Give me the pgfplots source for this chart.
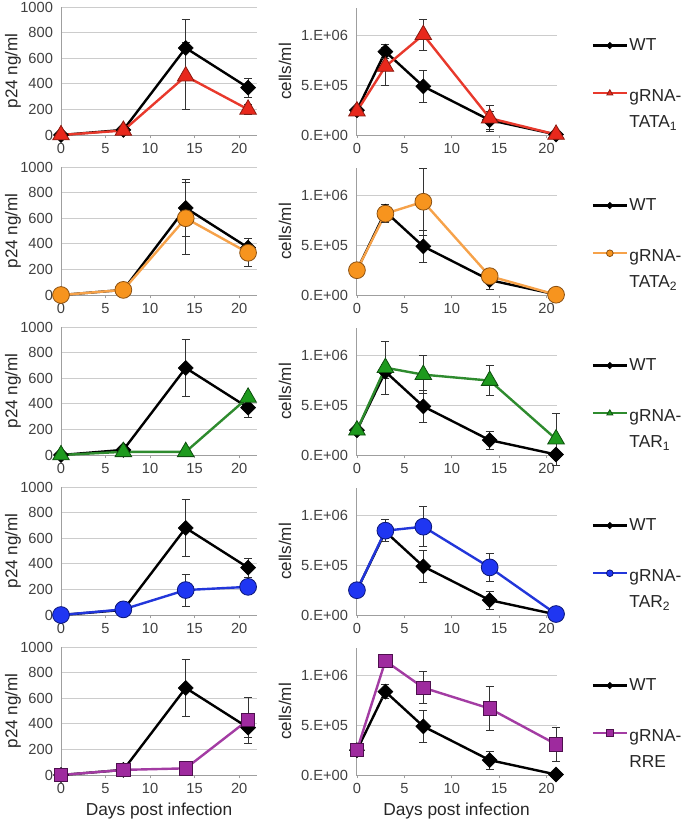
\documentclass[border=0pt]{standalone}
\usepackage{pgfplots}
\pgfplotsset{compat=1.18}
\usepackage{pgfplotstable}
\usepackage{fontspec}
\setmainfont{Liberation Sans}

\definecolor{cRed}{HTML}{E8281C}
\definecolor{cRedL}{HTML}{E8392C}
\definecolor{cRedD}{HTML}{8A1A10}
\definecolor{cOr}{HTML}{F7941E}
\definecolor{cOrL}{HTML}{F6A24A}
\definecolor{cOrD}{HTML}{8A5012}
\definecolor{cGr}{HTML}{1E9A1E}
\definecolor{cGrL}{HTML}{2E8B2E}
\definecolor{cGrD}{HTML}{0E4E0E}
\definecolor{cBl}{HTML}{1F36F2}
\definecolor{cBlL}{HTML}{2236DA}
\definecolor{cBlD}{HTML}{0B1677}
\definecolor{cPu}{HTML}{9E2A9E}
\definecolor{cPuL}{HTML}{A33CA3}
\definecolor{cPuD}{HTML}{4E104E}

% ---------------- data ----------------
\pgfplotstableread{
x y e
0 0 0
7 40 30
14 680 220
21 370 75
}\wtp
\pgfplotstableread{
x y e
0 2.5e5 2e4
3 8.4e5 7e4
7 4.9e5 1.6e5
14 1.5e5 9e4
21 5e3 0
}\wtc
\pgfplotstableread{
x y e
0 0 0
7 35 20
14 460 260
21 200 40
}\tataap
\pgfplotstableread{
x y e
0 2.4e5 2e4
3 6.9e5 1.9e5
7 1.01e6 1.6e5
14 1.7e5 1.3e5
21 5e3 0
}\tataac
\pgfplotstableread{
x y e
0 0 0
7 40 10
14 600 280
21 330 110
}\tatabp
\pgfplotstableread{
x y e
0 2.5e5 0
3 8.2e5 9e4
7 9.4e5 3.4e5
14 1.9e5 5e4
21 3e3 0
}\tatabc
\pgfplotstableread{
x y e
0 0 0
7 25 10
14 25 10
21 450 30
}\taraap
\pgfplotstableread{
x y e
0 2.5e5 0
3 8.8e5 2.7e5
7 8.1e5 1.9e5
14 7.5e5 1.5e5
21 1.6e5 2.6e5
}\taraac
\pgfplotstableread{
x y e
0 0 0
7 44 10
14 195 125
21 220 20
}\tarbp
\pgfplotstableread{
x y e
0 2.5e5 0
3 8.5e5 1.1e5
7 8.9e5 2e5
14 4.8e5 1.45e5
21 1e4 0
}\tarbc
\pgfplotstableread{
x y e
0 0 0
7 40 10
14 52 10
21 430 180
}\rrep
\pgfplotstableread{
x y e
0 2.5e5 0
3 1.15e6 0
7 8.8e5 1.6e5
14 6.7e5 2.2e5
21 3.1e5 1.7e5
}\rrec

\pgfplotsset{
  common/.style={
    scale only axis, axis lines=left,
    axis line style={-, gray!75, line width=0.6pt},
    ymajorgrids, grid style={gray!40, line width=0.6pt},
    tick align=outside, major tick length=2.5pt,
    ytick style={draw=none}, xtick style={gray!75, line width=0.6pt},
    xtick={0,5,10,15,20},
    ticklabel style={font=\fontsize{11}{13}\selectfont, text=black!75},
    label style={font=\fontsize{12.8}{15}\selectfont, text=black!85},
    xlabel style={font=\fontsize{13}{15}\selectfont},
    /pgf/number format/assume math mode=true,
    /pgf/number format/1000 sep={},
    clip=false,
  },
  leftax/.style={common, width=147pt, height=96pt,
    xmin=0, xmax=22, ymin=0, ymax=1000,
    ytick={0,200,...,1000}, ylabel={p24 ng/ml},
    ylabel style={at={(axis description cs:-0.245,0.5)}, anchor=center}},
  rightax/.style={common, width=150.75pt, height=95.25pt,
    xmin=-0.1, xmax=21.1, ymin=0, ymax=1.28e6,
    ytick={0,500000,1000000}, yticklabels={0.E+00,5.E+05,1.E+06},
    scaled y ticks=false, ylabel={cells/ml},
    ylabel style={at={(axis description cs:-0.353,0.5)}, anchor=center},
    legend style={at={(1.172,0.77)}, anchor=north west, draw=none, fill=none,
      font=\fontsize{13}{19.5}\selectfont, row sep=21pt,
      inner sep=0pt, outer sep=0pt, nodes={inner sep=1pt, text=black!85}},
    legend cell align=left,
    legend image code/.code={\draw[mark repeat=2, mark phase=2] plot coordinates {(0cm,0cm)(0.45cm,0cm)(0.9cm,0cm)};},
  },
  errb/.style={error bars/y dir=both, error bars/y explicit,
    error bars/error bar style={line width=0.6pt, black!80, solid},
    error bars/error mark options={line width=0.6pt, black!80, mark size=3pt, rotate=90}},
  wt/.style={black, line width=1.8pt, mark=square*, mark size=4pt,
    mark options={rotate=45, fill=black, draw=black, line width=0.4pt},
    legend image post style={mark size=1.7pt}, errb},
  tataa/.style={cRedL, line width=1.8pt, mark=triangle*, mark size=7.2pt,
    mark options={fill=cRed, draw=cRedD, line width=0.6pt},
    legend image post style={mark size=2.6pt}, errb},
  tatab/.style={cOrL, line width=1.8pt, mark=*, mark size=6.3pt,
    mark options={fill=cOr, draw=cOrD, line width=0.6pt},
    legend image post style={mark size=2.5pt}, errb},
  taraa/.style={cGrL, line width=1.8pt, mark=triangle*, mark size=7.2pt,
    mark options={fill=cGr, draw=cGrD, line width=0.6pt},
    legend image post style={mark size=2.6pt}, errb},
  tarb/.style={cBlL, line width=1.8pt, mark=*, mark size=6.3pt,
    mark options={fill=cBl, draw=cBlD, line width=0.6pt},
    legend image post style={mark size=2.5pt}, errb},
  rre/.style={cPuL, line width=1.8pt, mark=square*, mark size=5pt,
    mark options={fill=cPu, draw=cPuD, line width=0.6pt},
    legend image post style={mark size=2.7pt}, errb},
}

\newcommand{\panelrow}[6]{%
  \begin{axis}[leftax, at={(45.75pt,#1)}, anchor=south west, #6]
    \addplot[wt] table[x=x, y=y, y error=e]{\wtp};
    \addplot[#2] table[x=x, y=y, y error=e]{#3};
  \end{axis}
  \begin{axis}[rightax, at={(267pt,#1)}, anchor=south west, #6]
    \addplot[wt] table[x=x, y=y, y error=e]{\wtc};
    \addlegendentry{WT}
    \addplot[#2] table[x=x, y=y, y error=e]{#4};
    \addlegendentry{#5}
  \end{axis}%
}

\begin{document}
\begin{tikzpicture}
\useasboundingbox (0,0) rectangle (513.75pt,-616.5pt);
\panelrow{-101.25pt}{tataa}{\tataap}{\tataac}{\begin{tabular}[t]{@{}l@{}}gRNA-\\TATA\textsubscript{1}\end{tabular}}{}
\panelrow{-221.25pt}{tatab}{\tatabp}{\tatabc}{\begin{tabular}[t]{@{}l@{}}gRNA-\\TATA\textsubscript{2}\end{tabular}}{}
\panelrow{-341.25pt}{taraa}{\taraap}{\taraac}{\begin{tabular}[t]{@{}l@{}}gRNA-\\TAR\textsubscript{1}\end{tabular}}{}
\panelrow{-461.25pt}{tarb}{\tarbp}{\tarbc}{\begin{tabular}[t]{@{}l@{}}gRNA-\\TAR\textsubscript{2}\end{tabular}}{}
\panelrow{-581.25pt}{rre}{\rrep}{\rrec}{\begin{tabular}[t]{@{}l@{}}gRNA-\\RRE\end{tabular}}{xlabel={Days post infection}}
\end{tikzpicture}
\end{document}
